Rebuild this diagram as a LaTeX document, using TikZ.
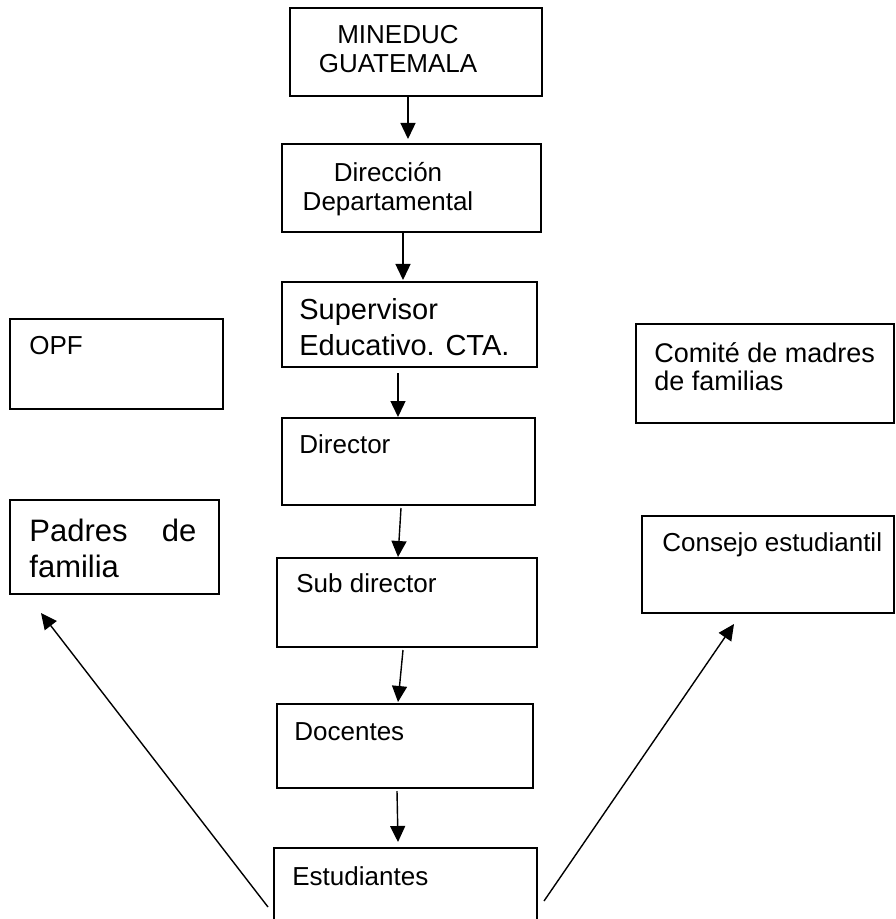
\documentclass[tikz,border=0pt]{standalone}
\usepackage{fontspec}
\setmainfont{Liberation Sans}
\usetikzlibrary{fit}
\usetikzlibrary{calc}
\usetikzlibrary{arrows.meta}
\tikzset{>={Triangle[length=8pt,width=7.5pt]}}
\tikzset{
  caja/.style={draw, line width=1pt, inner sep=0pt},
  txt/.style={inner sep=0pt, align=left, font=\fontsize{13}{14.5}\selectfont},
  txtbig/.style={txt, font=\fontsize{14.5}{18}\selectfont},
  flecha/.style={->, line width=0.7pt},
}

\begin{document}
\begin{tikzpicture}[x=0.5pt,y=-0.5pt]
  \useasboundingbox (0,0) rectangle (895,919);
  \node[caja, fit={(290,8) (542,96)}] (mineduc) {};
  \node[caja, fit={(282,144) (541,232)}] (direccion) {};
  \node[caja, fit={(282,282) (537,367)}] (supervisor) {};
  \node[caja, fit={(282,418) (535,505)}] (director) {};
  \node[caja, fit={(277,558) (537,647)}] (subdir) {};
  \node[caja, fit={(277,704) (533,788)}] (docentes) {};
  \node[caja, fit={(274,848) (537,935)}] (estudiantes) {};
  \node[caja, fit={(10,319) (223,409)}] (opf) {};
  \node[caja, fit={(10,500) (219,594)}] (padres) {};
  \node[caja, fit={(636,324) (894,423)}] (comite) {};
  \node[caja, fit={(642,516) (894,613)}] (consejo) {};
  \node[txt, align=center, anchor=north] (mineduc-t) at ($(mineduc.north west)+(109,18)$) {MINEDUC\\GUATEMALA};
  \node[txt, align=center, anchor=north] (direccion-t) at ($(direccion.north west)+(107,19)$) {Dirección\\Departamental};
  \node[txtbig, anchor=north west] (supervisor-t) at ($(supervisor.north west)+(18,17)$) {Supervisor\\Educativo. CTA.};
  \node[txt, anchor=base west] (director-t) at ($(director.north west)+(18,36)$) {Director};
  \node[txt, anchor=base west] (subdir-t) at ($(subdir.north west)+(20,35)$) {Sub director};
  \node[txt, anchor=base west] (docentes-t) at ($(docentes.north west)+(18,37)$) {Docentes};
  \node[txt, anchor=base west] (estudiantes-t) at ($(estudiantes.north west)+(19,38)$) {Estudiantes};
  \node[txt, anchor=base west] (opf-t) at ($(opf.north west)+(20,36)$) {OPF};
  \node[txt, anchor=north west, text width=83.5pt, font=\fontsize{15.5}{18}\selectfont] (padres-t) at ($(padres.north west)+(20,20)$) {Padres\hfill de\\familia};
  \node[txt, anchor=north west, font=\fontsize{13.5}{14}\selectfont] (comite-t) at ($(comite.north west)+(19,19)$) {Comité de madres\\de familias};
  \node[txt, anchor=base west] (consejo-t) at ($(consejo.north west)+(21,36)$) {Consejo estudiantil};
  \draw[flecha] ($(mineduc.south)+(-8,0)$) -- ($(direccion.north)+(-3.5,-4)$);
  \draw[flecha] ($(direccion.south)+(-8.5,0)$) -- ($(supervisor.north)+(-6.5,-1)$);
  \draw[flecha] ($(supervisor.south)+(-11.5,5)$) -- ($(director.north)+(-10.5,0)$);
  \draw[flecha] ($(director.south)+(-7.5,2)$) -- ($(subdir.north)+(-9,0)$);
  \draw[flecha] ($(subdir.south)+(-4,2)$) -- ($(docentes.north)+(-7,-1)$);
  \draw[flecha] ($(docentes.south)+(-8,2)$) -- ($(estudiantes.north)+(-7.5,-5)$);
  \draw[flecha] ($(estudiantes.north west)+(-5,60)$) -- ($(padres.south west)+(32,18)$);
  \draw[flecha] ($(estudiantes.north east)+(6,54)$) -- ($(consejo.south west)+(93,10)$);
\end{tikzpicture}
\end{document}
